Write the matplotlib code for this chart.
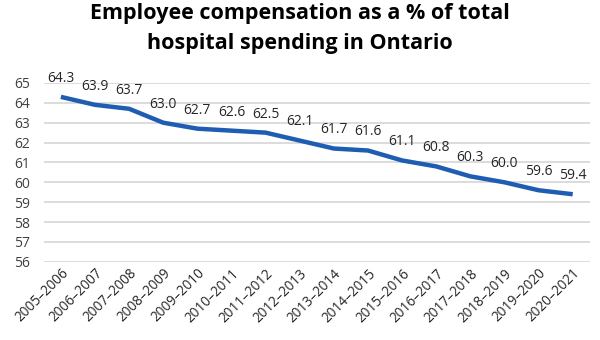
import matplotlib
matplotlib.use('Agg')
import matplotlib.pyplot as plt

years = ['2005\u20132006', '2006\u20132007', '2007\u20132008', '2008\u20132009',
         '2009\u20132010', '2010\u20132011', '2011\u20132012', '2012\u20132013',
         '2013\u20132014', '2014\u20132015', '2015\u20132016', '2016\u20132017',
         '2017\u20132018', '2018\u20132019', '2019\u20132020', '2020\u20132021']
share = [64.3, 63.9, 63.7, 63.0, 62.7, 62.6, 62.5, 62.1,
         61.7, 61.6, 61.1, 60.8, 60.3, 60.0, 59.6, 59.4]
yticks = list(range(56, 66))

plt.rcParams['font.family'] = ['Open Sans', 'DejaVu Sans']

fig = plt.figure(figsize=(6, 3.4), dpi=100)
ax = fig.add_axes([0.073, 0.23, 0.91, 0.526])

x = list(range(len(years)))
ax.plot(x, share, color='#1f5db3', lw=3.2, solid_capstyle='butt', zorder=3)
for xi, v in zip(x, share):
    ax.annotate(f'{v:.1f}', (xi, v), xytext=(0, 8), textcoords='offset points',
                ha='center', va='bottom', fontsize=10, color='#262626')

ax.set_xlim(-0.5, len(years) - 0.5)
ax.set_ylim(56, 65)
ax.set_yticks(yticks)
ax.set_xticks(x)
ax.set_xticklabels(years, rotation=45, ha='right', rotation_mode='anchor',
                   fontsize=9.8, color='#262626')
ax.tick_params(axis='y', labelsize=10, labelcolor='#404040', length=0, pad=10)
ax.tick_params(axis='x', length=0, pad=3)
ax.grid(axis='y', color='#d9d9d9', lw=1.3)
ax.set_axisbelow(True)
for s in ax.spines.values():
    s.set_visible(False)

fig.suptitle('Employee compensation as a % of total\nhospital spending in Ontario',
             x=0.5, y=0.99, fontsize=15.5, fontweight='bold', linespacing=1.55)

fig.savefig('out.png', dpi=100)
